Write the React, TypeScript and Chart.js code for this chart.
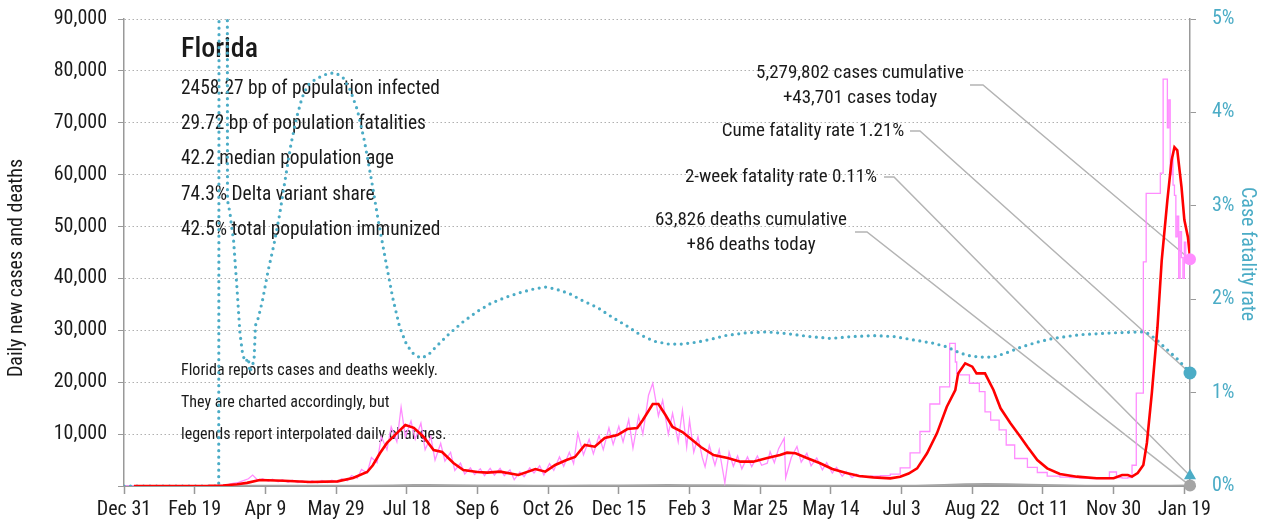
import React, { useEffect, useRef } from 'react';
import { Chart, registerables } from 'chart.js';

Chart.register(...registerables);

const W = 1266;
const H = 527;

// x axis: days since Dec 31, 2019
const tickDays = [0, 50, 100, 150, 200, 250, 300, 350, 400, 450, 500, 550, 600, 650, 700, 750];
const tickLabels = ['Dec 31', 'Feb 19', 'Apr 9', 'May 29', 'Jul 18', 'Sep 6', 'Oct 26', 'Dec 15', 'Feb 3', 'Mar 25', 'May 14', 'Jul 3', 'Aug 22', 'Oct 11', 'Nov 30', 'Jan 19'];
const lastDay = 754;

// headline numbers
const stateName = 'Florida';
const cumeCases = 5279802;
const todayCases = 43701;
const cumeCFR = 1.21;
const twoWeekCFR = 0.11;
const cumeDeaths = 63826;
const todayDeaths = 86;

const infoLines = [
  '2458.27 bp of population infected',
  '29.72 bp of population fatalities',
  '42.2 median population age',
  '74.3% Delta variant share',
  '42.5% total population immunized',
];
const noteLines = [
  'Florida reports cases and deaths weekly.',
  'They are charted accordingly, but',
  'legends report interpolated daily changes.',
];

// [day, daily new cases] raw reports (daily period)
const pinkDaily: [number, number][] = [
  [0, 0], [60, 30], [63, 60], [67, 90], [70, 150], [74, 300], [77, 500], [81, 700], [84, 1000], [88, 1400],
  [91, 2100], [95, 1000], [98, 1400], [102, 900], [105, 1300], [109, 800], [112, 1200], [116, 700], [119, 1100],
  [123, 650], [126, 1000], [130, 600], [133, 1000], [137, 600], [140, 1050], [144, 650], [147, 1100], [151, 700],
  [154, 1400], [158, 1000], [161, 2000], [165, 1500], [168, 3200], [172, 2500], [175, 5500], [179, 4500],
  [182, 9500], [186, 7000], [189, 11400], [193, 8500], [196, 15200], [199, 9500], [203, 12500], [206, 9000],
  [210, 12100], [213, 7000], [217, 9500], [220, 5000], [224, 8200], [227, 4800], [231, 6500], [234, 3000],
  [238, 4400], [241, 2300], [245, 3500], [248, 2200], [252, 3300], [255, 2000], [259, 3400], [262, 2100],
  [266, 3400], [269, 2000], [273, 3100], [276, 1200], [280, 2700], [283, 1800], [287, 3500], [290, 2500],
  [294, 3900], [297, 2100], [301, 4300], [304, 3000], [308, 5600], [311, 3800], [315, 6500], [318, 4300],
  [321, 10200], [325, 6000], [329, 9000], [332, 6200], [336, 9700], [339, 7000], [343, 11200], [346, 8000],
  [350, 11500], [353, 8500], [357, 12800], [360, 7300], [364, 13500], [367, 10000], [371, 17500], [374, 19800],
  [378, 13500], [381, 16500], [385, 10000], [388, 14000], [392, 8500], [395, 14600], [398, 7500], [400, 12700],
  [403, 6500], [406, 9500], [409, 5500], [411, 3700], [414, 7800], [418, 4000], [421, 7000], [425, 600],
  [428, 6500], [431, 3800], [434, 5800], [437, 3300], [441, 5600], [444, 3700], [448, 5800], [451, 4000],
  [455, 4400], [457, 6600], [460, 4500], [463, 7200], [467, 9200], [468, 1600], [472, 5500], [476, 7600],
  [479, 4600], [483, 6300], [486, 3900], [490, 5400], [494, 3100], [497, 4500], [501, 2500], [504, 3600],
  [508, 1900], [511, 2800], [515, 1600], [518, 2300], [521, 1700],
];

// [day, daily new cases] weekly reporting period (held until next report)
const pinkWeekly: [number, number][] = [
  [521, 1700], [528, 1800], [535, 1900], [542, 2000], [549, 2300], [556, 3500], [563, 6400], [570, 10500],
  [577, 15800], [584, 19100], [588, 27500], [589, 23900], [591, 21700], [598, 21400], [605, 19800], [609, 18200],
  [613, 14300], [619, 12700], [624, 10800], [630, 7900], [639, 5300], [646, 3600], [653, 2600], [662, 1900],
  [669, 1700], [676, 1600], [683, 1500], [690, 1450], [697, 1450], [702, 2700], [706, 1600], [710, 1500],
  [713, 1600], [716, 4000], [721, 17900], [723, 43200], [733, 56400], [735, 60300], [738, 78400], [739, 69000],
  [740, 74400], [741, 60000], [742, 63000], [743, 58000], [744, 56000], [745, 48000], [746, 52000], [747, 40000],
  [748, 49000], [749, 44000], [750, 40000], [751, 47000], [752, 43000], [753, 43701], [754, 43701],
];

// [day, 7-day average new cases]
const redAvg: [number, number][] = [
  [7, 0], [60, 20], [70, 100], [80, 350], [87, 600], [96, 1150], [113, 1000], [132, 770], [151, 900], [162, 1540],
  [172, 2700], [176, 4000], [181, 6300], [186, 8300], [193, 10200], [199, 11750], [205, 11200], [212, 9450],
  [219, 6940], [225, 6550], [233, 4430], [240, 3080], [250, 2700], [257, 2570], [266, 2760], [279, 2120],
  [291, 3270], [298, 2760], [305, 4050], [313, 5010], [319, 5590], [326, 7900], [333, 7570], [340, 9250],
  [349, 9830], [356, 10980], [363, 11180], [367, 12720], [374, 15800], [378, 15800], [383, 13680], [388, 11370],
  [395, 10400], [402, 8860], [408, 7510], [417, 5970], [427, 5400], [436, 4690], [445, 4690], [455, 5400],
  [464, 5970], [469, 6420], [475, 6300], [483, 5400], [492, 4430], [501, 3280], [511, 2500], [520, 1930],
  [530, 1670], [542, 1480], [549, 1800], [555, 2400], [561, 3400], [568, 6300], [575, 10150], [582, 15280],
  [588, 18500], [590, 21700], [595, 23640], [600, 23000], [603, 21700], [609, 21700], [615, 18500], [620, 14970],
  [627, 12080], [634, 9500], [639, 7570], [646, 5010], [653, 3400], [662, 2310], [674, 1800], [688, 1480],
  [700, 1480], [706, 2120], [710, 2120], [713, 1800], [717, 2500], [721, 4050], [723.5, 8290], [727, 17900],
  [731, 30600], [734, 43500], [738, 55100], [741, 62800], [743, 65300], [745, 64700], [748, 57600], [750, 51300],
  [752.5, 48000], [754, 44100],
];

// [day, daily deaths]
const deaths: [number, number][] = [
  [0, 0], [70, 0], [85, 30], [100, 50], [120, 45], [150, 35], [170, 50], [190, 110], [205, 170], [215, 180],
  [230, 150], [250, 110], [270, 90], [290, 70], [310, 60], [330, 80], [350, 100], [370, 140], [385, 170],
  [400, 160], [420, 130], [440, 90], [460, 70], [480, 65], [500, 55], [520, 40], [540, 35], [560, 60], [580, 200],
  [595, 330], [610, 380], [625, 340], [640, 250], [660, 130], [680, 60], [700, 40], [720, 35], [740, 50], [754, 86],
];

// [day, case fatality rate %]
const cfr: [number, number][] = [
  [0, 0], [67, 0], [67.5, 12], [72.8, 12], [73.2, 3.06], [75, 2.92], [76, 2.79], [77.5, 2.63], [80, 2.1],
  [82, 1.64], [84, 1.4], [86, 1.33], [88, 1.37], [89, 1.22], [91, 1.3], [92, 1.35], [93, 1.72], [95, 1.8],
  [98, 1.99], [102, 2.31], [106, 2.58], [110, 2.9], [114, 3.28], [118, 3.65], [122, 3.94], [126, 4.16],
  [130, 4.29], [135, 4.35], [140, 4.39], [145, 4.42], [150, 4.42], [155, 4.37], [160, 4.24], [165, 4.03],
  [170, 3.7], [175, 3.28], [180, 2.83], [185, 2.42], [190, 2.02], [195, 1.7], [200, 1.51], [205, 1.41],
  [210, 1.37], [215, 1.4], [220, 1.48], [230, 1.63], [240, 1.76], [250, 1.87], [260, 1.96], [270, 2.02],
  [280, 2.07], [290, 2.11], [298, 2.13], [305, 2.11], [315, 2.06], [325, 1.98], [335, 1.91], [345, 1.81],
  [355, 1.72], [365, 1.62], [375, 1.55], [385, 1.52], [395, 1.52], [405, 1.54], [415, 1.57], [425, 1.61],
  [440, 1.64], [455, 1.65], [470, 1.63], [485, 1.6], [500, 1.58], [515, 1.6], [530, 1.61], [545, 1.6],
  [560, 1.56], [572, 1.53], [582, 1.49], [589, 1.44], [596, 1.4], [605, 1.38], [615, 1.38], [625, 1.43],
  [635, 1.49], [646, 1.54], [657, 1.58], [676, 1.62], [700, 1.64], [720, 1.65], [725, 1.63], [730, 1.57],
  [735, 1.5], [740, 1.43], [745, 1.36], [750, 1.28], [754, 1.21],
];

const TEAL = '#4bacc6';
const PINK = '#ff8cff';
const RED = '#ff0000';
const GRAY = '#a5a5a5';
const TEXT = '#1a1a1a';

function pickFamily(): string {
  const c = document.createElement('canvas').getContext('2d');
  if (!c) return 'sans-serif';
  const s = 'Florida 2458.27 bp of population infected 0123456789';
  c.font = '40px monospace';
  const base = c.measureText(s).width;
  const cands = ['Roboto Condensed', 'Liberation Sans Narrow', 'Arial Narrow', 'Nimbus Sans Narrow', 'DejaVu Sans Condensed', 'Noto Sans Condensed', 'Open Sans Condensed'];
  for (const f of cands) {
    c.font = `40px "${f}", monospace`;
    if (Math.abs(c.measureText(s).width - base) > 1) return `"${f}", sans-serif`;
  }
  return '"Liberation Sans", sans-serif';
}

const pts = (arr: [number, number][]) => arr.map(([x, y]) => ({ x, y }));

export default function App() {
  const ref = useRef<HTMLCanvasElement | null>(null);

  useEffect(() => {
    if (!ref.current) return;
    const fam = pickFamily();
    Chart.defaults.font.family = fam;

    const annot = {
      id: 'annot',
      beforeDatasetsDraw(chart: any) {
        const ctx = chart.ctx as CanvasRenderingContext2D;
        const xs = chart.scales.x;
        const ys = chart.scales.y;
        const y1 = chart.scales.y1;
        ctx.save();
        ctx.fillStyle = TEXT;
        ctx.textBaseline = 'middle';
        ctx.textAlign = 'left';
        ctx.font = `500 28px ${fam}`;
        ctx.fillText(stateName, 181, 50);
        ctx.font = `19.4px ${fam}`;
        infoLines.forEach((t, i) => ctx.fillText(t, 181, 89 + i * 35.3));
        ctx.font = `16px ${fam}`;
        noteLines.forEach((t, i) => ctx.fillText(t, 181, 371 + i * 32));

        const ex = xs.getPixelForValue(lastDay);
        const callouts = [
          { lines: [`${cumeCases.toLocaleString('en-US')} cases cumulative`, `+${todayCases.toLocaleString('en-US')} cases today`], cx: 860, ty: 73, ly: 85, lx0: 970, lx1: 983, ey: ys.getPixelForValue(todayCases) },
          { lines: [`Cume fatality rate ${cumeCFR.toFixed(2)}%`], cx: 813, ty: 131, ly: 131, lx0: 910, lx1: 920, ey: y1.getPixelForValue(cumeCFR) },
          { lines: [`2-week fatality rate ${twoWeekCFR.toFixed(2)}%`], cx: 781, ty: 177, ly: 177, lx0: 884, lx1: 894, ey: y1.getPixelForValue(twoWeekCFR) },
          { lines: [`${cumeDeaths.toLocaleString('en-US')} deaths cumulative`, `+${todayDeaths} deaths today`], cx: 751, ty: 220, ly: 232, lx0: 855, lx1: 867, ey: ys.getPixelForValue(todayDeaths) },
        ];
        ctx.font = `19px ${fam}`;
        ctx.textAlign = 'center';
        callouts.forEach((c) => {
          c.lines.forEach((t, i) => ctx.fillText(t, c.cx, c.ty + i * 25));
          ctx.strokeStyle = '#b4b4b4';
          ctx.lineWidth = 1.5;
          ctx.beginPath();
          ctx.moveTo(c.lx0, c.ly);
          ctx.lineTo(c.lx1, c.ly);
          ctx.lineTo(ex, c.ey);
          ctx.stroke();
        });

        ctx.font = `20px ${fam}`;
        ctx.save();
        ctx.translate(17, 268);
        ctx.rotate(-Math.PI / 2);
        ctx.fillStyle = TEXT;
        ctx.fillText('Daily new cases and deaths', 0, 0);
        ctx.restore();
        ctx.save();
        ctx.translate(1247, 254);
        ctx.rotate(Math.PI / 2);
        ctx.fillStyle = TEAL;
        ctx.fillText('Case fatality rate', 0, 0);
        ctx.restore();
        ctx.restore();
      },
    };

    const noVertPad = (s: any) => { s.paddingTop = 0; s.paddingBottom = 0; };

    const chart = new Chart(ref.current, {
      type: 'line',
      data: {
        datasets: [
          { data: [{ x: lastDay, y: todayCases }], yAxisID: 'y', showLine: false, pointRadius: 6, pointBackgroundColor: PINK, pointBorderWidth: 0, clip: false } as any,
          { data: [{ x: lastDay, y: cumeCFR }], yAxisID: 'y1', showLine: false, pointRadius: 6.5, pointBackgroundColor: TEAL, pointBorderWidth: 0, clip: false },
          { data: [{ x: lastDay, y: twoWeekCFR }], yAxisID: 'y1', showLine: false, pointStyle: 'triangle', pointRadius: 7, pointBackgroundColor: TEAL, pointBorderWidth: 0, clip: false },
          { data: [{ x: lastDay, y: todayDeaths }], yAxisID: 'y', showLine: false, pointRadius: 6, pointBackgroundColor: GRAY, pointBorderWidth: 0, clip: false },
          { data: pts(redAvg), yAxisID: 'y', borderColor: RED, borderWidth: 2.6, pointRadius: 0, tension: 0 },
          { data: pts(cfr), yAxisID: 'y1', borderColor: TEAL, borderWidth: 3.2, borderDash: [0, 6.5], borderCapStyle: 'round', pointRadius: 0 },
          { data: pts(pinkDaily), yAxisID: 'y', borderColor: PINK, borderWidth: 1.3, pointRadius: 0 },
          { data: pts(pinkWeekly), yAxisID: 'y', borderColor: PINK, borderWidth: 1.3, pointRadius: 0, stepped: 'after' },
          { data: pts(deaths), yAxisID: 'y', borderColor: GRAY, borderWidth: 2, pointRadius: 0 },
        ],
      },
      options: {
        animation: false,
        responsive: false,
        events: [],
        layout: { padding: { top: 19, left: 0, right: 0, bottom: 0 } },
        plugins: { legend: { display: false }, tooltip: { enabled: false } },
        scales: {
          x: {
            type: 'linear',
            min: 0,
            max: lastDay,
            afterBuildTicks: (s: any) => { s.ticks = tickDays.map((v) => ({ value: v })); },
            afterFit: (s: any) => { s.height = H - 486; },
            ticks: {
              autoSkip: false,
              maxRotation: 0,
              padding: 4,
              color: TEXT,
              font: { size: 20 },
              callback: (_v: any, i: number) => tickLabels[i] ?? '',
            },
            grid: { drawOnChartArea: false, drawTicks: true, tickLength: 8, tickColor: '#999', tickWidth: 1.5, tickBorderDash: [4, 0] },
            border: { color: '#999', width: 2 },
          },
          y: {
            type: 'linear',
            position: 'left',
            min: 0,
            max: 90000,
            afterFit: (s: any) => { s.width = 124; noVertPad(s); },
            ticks: {
              stepSize: 10000,
              padding: 11,
              color: TEXT,
              font: { size: 20 },
              callback: (v: any) => (Number(v) === 0 ? '' : Number(v).toLocaleString('en-US')),
            },
            grid: { color: '#b0b0b0', lineWidth: 1, tickLength: 6, tickColor: '#999', tickWidth: 1.2, tickBorderDash: [4, 0] },
            border: { color: '#999', width: 1.5, dash: [1.5, 2.5] },
          },
          y1: {
            type: 'linear',
            position: 'right',
            min: 0,
            max: 5,
            afterFit: (s: any) => { s.width = W - 1190; noVertPad(s); },
            ticks: {
              stepSize: 1,
              padding: 16,
              color: TEAL,
              font: { size: 20 },
              callback: (v: any) => `${v}%`,
            },
            grid: { drawOnChartArea: false, tickLength: 6, tickColor: '#999', tickWidth: 1.2, tickBorderDash: [4, 0] },
            border: { color: '#999', width: 1.5 },
          },
        },
      },
      plugins: [annot],
    } as any);

    return () => chart.destroy();
  }, []);

  return (
    <div style={{ position: 'fixed', left: 0, top: 0, width: W, height: H, background: '#fff' }}>
      <canvas ref={ref} width={W} height={H} style={{ display: 'block' }} />
    </div>
  );
}
